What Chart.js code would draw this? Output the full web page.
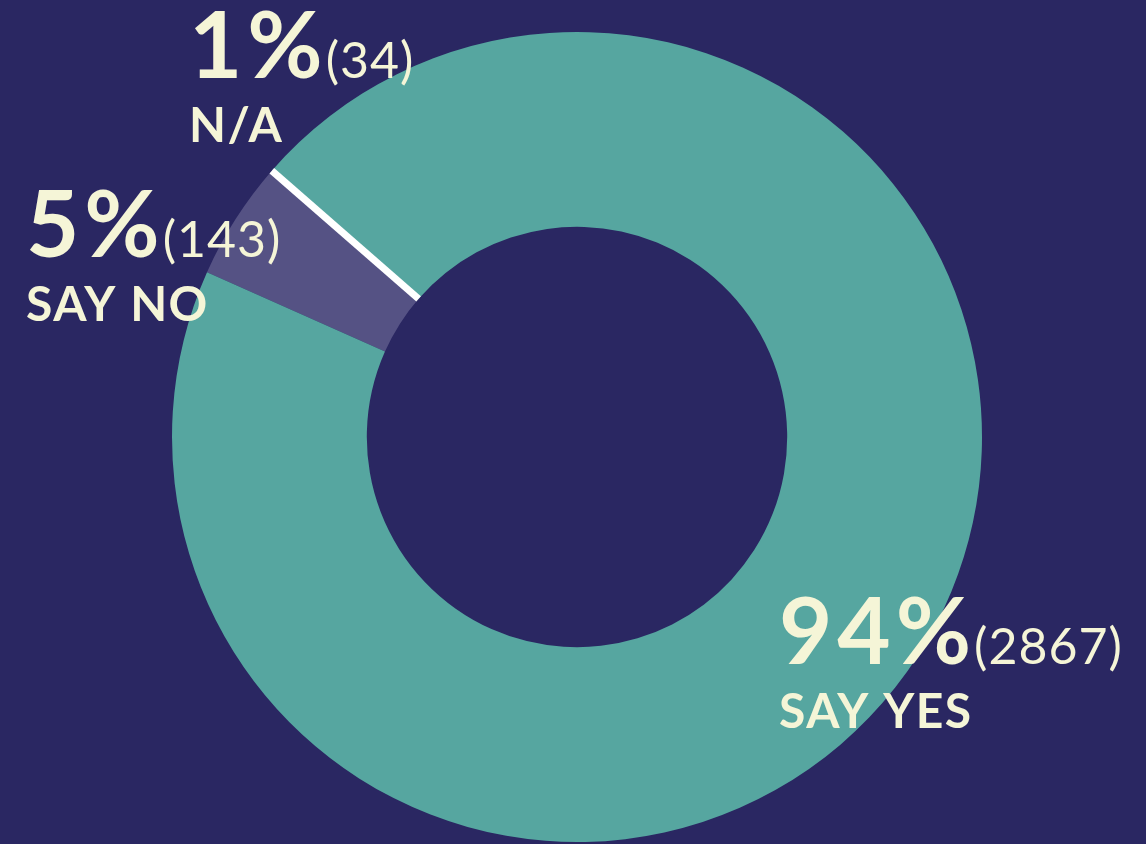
<!DOCTYPE html>
<html>
<head>
<meta charset="utf-8">
<script src="https://cdn.jsdelivr.net/npm/chart.js@4.4.1/dist/chart.umd.min.js"></script>
<style>
  html, body { margin: 0; padding: 0; background: #2a2762; }
  #wrap { width: 1146px; height: 844px; position: relative; }
</style>
</head>
<body>
<div id="wrap"><canvas id="pollChart"></canvas></div>
<script>
// Survey answers
var categories = ['SAY NO', 'SAY YES'];
var counts = [143, 2867];
var percents = ['5%', '94%'];
// N/A answers are shown as a thin separator, not a wedge
var naLabel = 'N/A';
var naCount = 34;
var naPercent = '1%';

var colors = ['#555284', '#56a6a0'];
var textColor = '#f5f5d7';

// Draws the N/A separator and the text labels
var labelPlugin = {
  id: 'labelPlugin',
  afterDatasetsDraw: function (chart) {
    var ctx = chart.ctx;
    var arc = chart.getDatasetMeta(0).data[0];
    var a = arc.endAngle;
    ctx.save();
    ctx.strokeStyle = '#ffffff';
    ctx.lineWidth = 7;
    ctx.beginPath();
    ctx.moveTo(arc.x + Math.cos(a) * arc.innerRadius, arc.y + Math.sin(a) * arc.innerRadius);
    ctx.lineTo(arc.x + Math.cos(a) * arc.outerRadius, arc.y + Math.sin(a) * arc.outerRadius);
    ctx.stroke();
    ctx.restore();

    function block(x, y, pct, count, name) {
      ctx.save();
      ctx.fillStyle = textColor;
      ctx.textBaseline = 'alphabetic';
      ctx.textAlign = 'left';
      ctx.font = 'bold 92px Lato';
      ctx.letterSpacing = '5px';
      ctx.fillText(pct, x, y);
      var w = ctx.measureText(pct).width;
      ctx.font = '50px Lato';
      ctx.letterSpacing = '1px';
      ctx.fillText('(' + count + ')', x + w - 2, y);
      ctx.font = 'bold 48px Lato';
      ctx.letterSpacing = '1.5px';
      ctx.fillText(name, x, y + 64);
      ctx.restore();
    }
    block(189, 78, naPercent, naCount, naLabel);
    block(26, 257, percents[0], counts[0], categories[0]);
    block(779, 664, percents[1], counts[1], categories[1]);
  }
};

var ctx = document.getElementById('pollChart').getContext('2d');
var myChart = new Chart(ctx, {
  type: 'doughnut',
  data: {
    labels: categories,
    datasets: [{
      data: counts,
      backgroundColor: colors,
      borderWidth: 0,
      hoverOffset: 0
    }]
  },
  options: {
    responsive: true,
    maintainAspectRatio: false,
    animation: false,
    rotation: 294,
    cutout: '51.9%',
    layout: { padding: { top: 32, bottom: 2, left: 8, right: 0 } },
    plugins: {
      legend: { display: false },
      tooltip: { enabled: false }
    }
  },
  plugins: [labelPlugin]
});
</script>
</body>
</html>
